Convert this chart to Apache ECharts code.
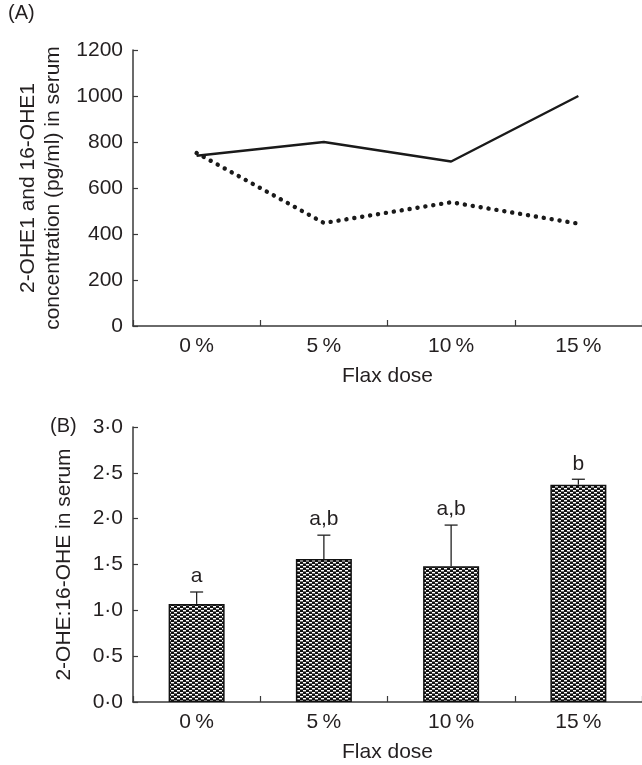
<!DOCTYPE html>
<html>
<head>
<meta charset="utf-8">
<script src="https://cdn.jsdelivr.net/npm/echarts@6/dist/echarts.min.js"></script>
<style>
html,body{margin:0;padding:0;background:#fff;}
#chart{width:642px;height:765px;}
</style>
</head>
<body>
<div id="chart"></div>
<script>
// ---- data ----
var categories = ['0\u2009%', '5\u2009%', '10\u2009%', '15\u2009%'];
var solidSeries = [740, 800, 715, 1000];      // panel A, solid line
var dottedSeries = [752, 448, 538, 445];      // panel A, dotted line
var ratioMeans = [1.07, 1.56, 1.48, 2.37];    // panel B bars
var ratioErr = [0.13, 0.26, 0.45, 0.06];      // panel B error (upper)
var sigLetters = ['a', 'a,b', 'a,b', 'b'];

var FONT = '"Liberation Sans", Arial, sans-serif';
var FS = 21;
var TXT = '#231f20';
var AX = '#3a3a3a';

// checker pattern
var pc = document.createElement('canvas');
pc.width = 6; pc.height = 4;
var pctx = pc.getContext('2d');
pctx.fillStyle = '#111'; pctx.fillRect(0, 0, 6, 4);
pctx.fillStyle = '#fff';
pctx.fillRect(0, 0, 3, 1);
pctx.fillRect(3, 2, 3, 1);
pctx.fillStyle = '#777';
pctx.fillRect(0, 1, 3, 1);
pctx.fillRect(3, 3, 3, 1);

var chart = echarts.init(document.getElementById('chart'), null, {renderer: 'canvas'});

function catAxis(gridIndex) {
  return {
    type: 'category', gridIndex: gridIndex, data: categories, boundaryGap: true,
    axisLine: {show: true, lineStyle: {color: AX, width: 1.5}},
    axisTick: {show: true, inside: true, length: 6, alignWithLabel: false, lineStyle: {color: AX, width: 1.2}},
    axisLabel: {color: TXT, fontFamily: FONT, fontSize: FS, margin: 10},
    name: 'Flax dose', nameLocation: 'middle', nameGap: 40,
    nameTextStyle: {color: TXT, fontFamily: FONT, fontSize: FS}
  };
}

var option = {
  animation: false,
  backgroundColor: '#fff',
  textStyle: {fontFamily: FONT},
  grid: [
    {left: 133, top: 50, width: 509, height: 276},
    {left: 133, top: 427, width: 509, height: 275}
  ],
  xAxis: [catAxis(0), catAxis(1)],
  yAxis: [
    {
      type: 'value', gridIndex: 0, min: 0, max: 1200, interval: 200,
      splitLine: {show: false},
      axisLine: {show: true, lineStyle: {color: AX, width: 1.5}},
      axisTick: {show: true, inside: true, length: 5, lineStyle: {color: AX, width: 1.2}},
      axisLabel: {color: TXT, fontFamily: FONT, fontSize: FS, margin: 10,
        formatter: function (v) { return String(v); }},
      name: '2-OHE1 and 16-OHE1\nconcentration (pg/ml) in serum',
      nameLocation: 'middle', nameRotate: 90, nameGap: 66,
      nameTextStyle: {color: TXT, fontFamily: FONT, fontSize: FS, lineHeight: 25}
    },
    {
      type: 'value', gridIndex: 1, min: 0, max: 3, interval: 0.5,
      splitLine: {show: false},
      axisLine: {show: true, lineStyle: {color: AX, width: 1.5}},
      axisTick: {show: true, inside: true, length: 5, lineStyle: {color: AX, width: 1.2}},
      axisLabel: {color: TXT, fontFamily: FONT, fontSize: FS, margin: 10,
        formatter: function (v) { return v.toFixed(1).replace('.', '\u00b7'); }},
      name: '2-OHE:16-OHE in serum',
      nameLocation: 'middle', nameRotate: 90, nameGap: 58,
      nameTextStyle: {color: TXT, fontFamily: FONT, fontSize: FS}
    }
  ],
  graphic: [
    {type: 'text', left: 8, top: 3, style: {text: '(A)', fill: TXT, font: '20px ' + FONT}},
    {type: 'text', left: 50, top: 416, style: {text: '(B)', fill: TXT, font: '20px ' + FONT}}
  ],
  series: [
    {
      type: 'line', xAxisIndex: 0, yAxisIndex: 0, data: solidSeries,
      symbol: 'none', lineStyle: {color: '#1a1a1a', width: 2.4}
    },
    {
      type: 'line', xAxisIndex: 0, yAxisIndex: 0, data: dottedSeries,
      symbol: 'none', lineStyle: {color: '#1a1a1a', width: 4.4, type: [0.1, 7.9], cap: 'round'}
    },
    {
      type: 'bar', xAxisIndex: 1, yAxisIndex: 1, data: ratioMeans, barWidth: 56,
      itemStyle: {color: {image: pc, repeat: 'repeat'}, borderColor: '#111', borderWidth: 1.5}
    },
    {
      type: 'custom', xAxisIndex: 1, yAxisIndex: 1,
      data: ratioMeans.map(function (m, i) { return [i, m, m + ratioErr[i]]; }),
      renderItem: function (params, api) {
        var i = api.value(0);
        var p0 = api.coord([i, api.value(1)]);
        var p1 = api.coord([i, api.value(2)]);
        var half = 6.5;
        return {
          type: 'group',
          children: [
            {type: 'line', shape: {x1: p0[0], y1: p0[1], x2: p1[0], y2: p1[1]},
             style: {stroke: '#222', lineWidth: 1.3}},
            {type: 'line', shape: {x1: p1[0] - half, y1: p1[1], x2: p1[0] + half, y2: p1[1]},
             style: {stroke: '#222', lineWidth: 1.3}},
            {type: 'text', x: p1[0], y: p1[1] - 5,
             style: {text: sigLetters[i], fill: TXT, font: FS + 'px ' + FONT,
                     textAlign: 'center', textVerticalAlign: 'bottom'}}
          ]
        };
      },
      z: 5
    }
  ]
};
chart.setOption(option);
</script>
</body>
</html>
